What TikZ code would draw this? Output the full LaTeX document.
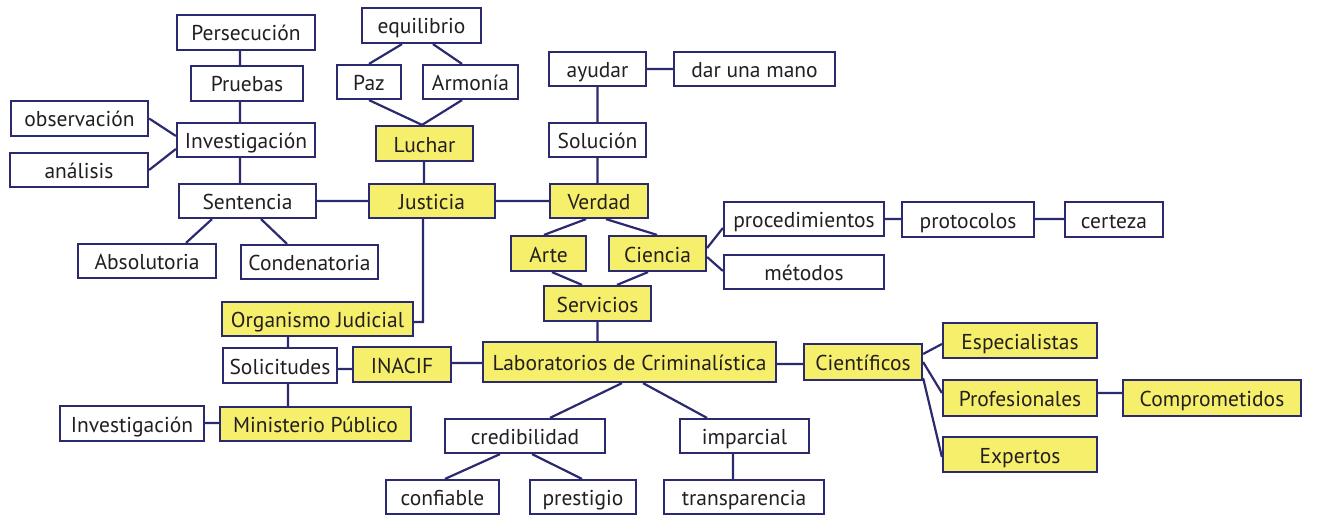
\documentclass[tikz,border=0pt]{standalone}
\usepackage{fontspec}
\setmainfont{PT Sans}
\definecolor{navy}{HTML}{2B2A6E}
\definecolor{yel}{HTML}{F6EF6B}
\definecolor{txt}{HTML}{231F20}
\begin{document}
\begin{tikzpicture}[x=1pt,y=-1pt,
  box/.style={draw=navy,line width=2.2pt,fill=white,inner sep=0pt,text=txt,
    font=\fontsize{21.5}{24}\selectfont,text height=19pt,text depth=2pt},
  ybox/.style={box,fill=yel},
  link/.style={draw=navy,line width=2.2pt}]
\useasboundingbox (0,0) rectangle (1321,516);
\newcommand\bx[6]{\node[#1,minimum width=#4,minimum height=#5] (#2) at (#3) {#6};}
\bx{box}{pers}{246,32.5}{138}{35}{Persecución}
\bx{box}{prue}{247,83.5}{112}{35}{Pruebas}
\bx{box}{obs}{79.5,118.5}{137}{35}{observación}
\bx{box}{inv}{246,140}{138}{34}{Investigación}
\bx{box}{ana}{79,170}{138}{34}{análisis}
\bx{box}{sent}{247.5,201}{137}{34}{Sentencia}
\bx{box}{abso}{147,261}{138}{34}{Absolutoria}
\bx{box}{cond}{309.5,262}{137}{34}{Condenatoria}
\bx{box}{equi}{421.5,25.5}{119}{35}{equilibrio}
\bx{box}{paz}{369,82}{64}{34}{Paz}
\bx{box}{armo}{470.5,82}{95}{34}{Armonía}
\bx{ybox}{luch}{424.5,143.5}{97}{35}{Luchar}
\bx{ybox}{just}{432,201}{126}{34}{Justicia}
\bx{box}{ayud}{597.5,69}{97}{34}{ayudar}
\bx{box}{dar}{754.5,69}{161}{34}{dar una mano}
\bx{box}{solu}{597.5,140}{97}{34}{Solución}
\bx{ybox}{verd}{599,201}{98}{34}{Verdad}
\bx{ybox}{arte}{548.5,253.5}{75}{35}{Arte}
\bx{ybox}{cien}{657.5,253.5}{97}{35}{Ciencia}
\bx{ybox}{serv}{597.5,303.5}{107}{35}{Servicios}
\bx{box}{proc}{804,219}{160}{34}{procedimientos}
\bx{box}{meto}{804,272}{160}{34}{métodos}
\bx{box}{prot}{968,219.5}{132}{35}{protocolos}
\bx{box}{cert}{1114,219.5}{98}{35}{certeza}
\bx{ybox}{cient}{863,362}{118}{36}{Científicos}
\bx{ybox}{espe}{1020,340.5}{154}{35}{Especialistas}
\bx{ybox}{prof}{1020,398}{154}{36}{Profesionales}
\bx{ybox}{comp}{1212,398}{178}{36}{Comprometidos}
\bx{ybox}{expe}{1020,454.5}{154}{35}{Expertos}
\bx{ybox}{orga}{317.5,319}{191}{34}{Organismo Judicial}
\bx{box}{soli}{280,365.5}{114}{35}{Solicitudes}
\bx{ybox}{inac}{402,364.5}{98}{35}{INACIF}
\bx{ybox}{mini}{315.5,424}{191}{34}{Ministerio Público}
\bx{box}{inv2}{132,423.5}{144}{35}{Investigación}
\bx{ybox}{labo}{629.5,362}{293}{40}{Laboratorios de Criminalística}
\bx{box}{cred}{525,436}{160}{34}{credibilidad}
\bx{box}{impa}{744.5,436}{129}{34}{imparcial}
\bx{box}{conf}{442.5,497}{113}{34}{confiable}
\bx{box}{pres}{583,497}{106}{34}{prestigio}
\bx{box}{tran}{744,497}{160}{34}{transparencia}
\path[link]
 ([xshift=-6]pers.south) -- ([xshift=-7]prue.north)
 ([xshift=-7]prue.south) -- ([xshift=-6]inv.north)
 ([xshift=-6]inv.south) -- ([xshift=-7.5]sent.north)
 (obs.east) -- ([yshift=4]inv.west)
 (ana.east) -- ([yshift=-9]inv.west)
 ([xshift=-35.5]sent.south) -- ([xshift=39]abso.north)
 ([xshift=13.5]sent.south) -- ([xshift=-22.5]cond.north)
 ([xshift=-19.5]equi.south) -- (paz.north)
 ([xshift=11.5]equi.south) -- ([xshift=-8.5]armo.north)
 (paz.south) -- ([xshift=-2.5]luch.north)
 ([xshift=-8.5]armo.south) -- ([xshift=-2.5]luch.north)
 ([xshift=-0.5]luch.south) -- ([xshift=-8]just.north)
 (sent.east) -- (just.west)
 ([xshift=-9]just.south) |- ([yshift=-3]orga.east)
 (just.east) -- (verd.west)
 (ayud.east) -- (dar.west)
 (ayud.south) -- (solu.north)
 (solu.south) -- ([xshift=-1.5]verd.north)
 ([xshift=-13]verd.south) -- ([xshift=-4.5]arte.north)
 ([xshift=7]verd.south) -- ([xshift=-0.5]cien.north)
 ([xshift=3.5]arte.south) -- ([xshift=-15.5]serv.north)
 ([xshift=-9.5]cien.south) -- ([xshift=19.5]serv.north)
 ([yshift=5.5]cien.east) -- ([yshift=-9]proc.west)
 ([yshift=-3.5]cien.east) -- ([yshift=1]meto.west)
 (proc.east) -- ([yshift=0.5]prot.west)
 ([yshift=0.5]prot.east) -- ([yshift=0.5]cert.west)
 (serv.south) -- ([xshift=-32]labo.north)
 ([yshift=-2]labo.east) -- ([yshift=-2]cient.west)
 ([yshift=8]cient.east) -- ([yshift=-3.5]espe.west)
 (cient.east) -- ([yshift=5]prof.west)
 ([yshift=-16]cient.east) -- ([yshift=-2.5]expe.west)
 ([yshift=5]prof.east) -- ([yshift=5]comp.west)
 ([xshift=-7.5]labo.south) -- ([xshift=25]cred.north)
 ([xshift=13.5]labo.south) -- ([xshift=-37.5]impa.north)
 ([xshift=-25]cred.south) -- ([xshift=2.5]conf.north)
 ([xshift=7]cred.south) -- ([xshift=-1]pres.north)
 ([xshift=-11.5]impa.south) -- ([xshift=-11]tran.north)
 ([xshift=-29.5]orga.south) -- ([xshift=8]soli.north)
 ([yshift=-3.5]soli.east) -- ([yshift=-4.5]inac.west)
 ([yshift=1.5]inac.east) -- ([yshift=-1]labo.west)
 ([xshift=8]soli.south) -- ([xshift=-27.5]mini.north)
 ([yshift=0.5]inv2.east) -- ([yshift=1]mini.west);
\end{tikzpicture}
\end{document}
